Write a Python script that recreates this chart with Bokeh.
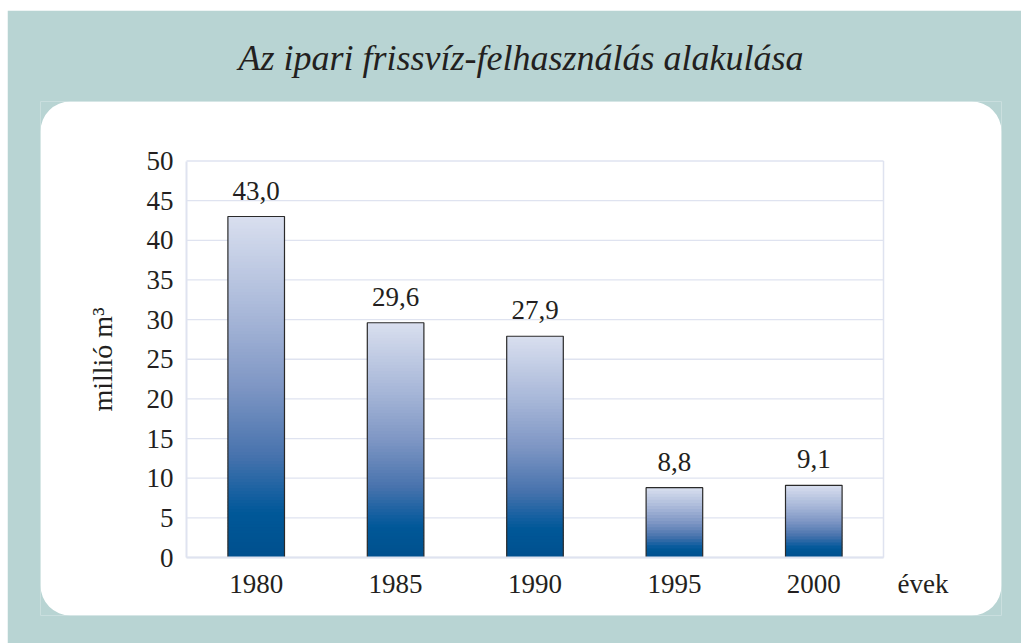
from bokeh.plotting import figure
from bokeh.models import Range1d, FixedTicker, ColumnDataSource, BoxAnnotation, Label
from bokeh.core.properties import value
from bokeh.embed import file_html
from bokeh.resources import INLINE

# ---- data ----
years = [1980, 1985, 1990, 1995, 2000]
values = [43.0, 29.6, 27.9, 8.8, 9.1]
value_labels = ["43,0", "29,6", "27,9", "8,8", "9,1"]
year_labels = ["1980", "1985", "1990", "1995", "2000"]
y_ticks = [0, 5, 10, 15, 20, 25, 30, 35, 40, 45, 50]

TITLE = "Az ipari frissvíz-felhasználás alakulása"
Y_LABEL = "millió m³"
X_UNIT = "évek"

# ---- style ----
TEAL = "#b8d4d3"
GRID = "#dfe3f0"
TEXT = "#231f20"
FONT = "Liberation Serif"
BAR_W = 2.03
STOPS = [
    (0.00, (217, 223, 239)),
    (0.30, (165, 181, 215)),
    (0.50, (126, 150, 196)),
    (0.70, (72, 115, 173)),
    (0.82, (20, 95, 160)),
    (0.87, (0, 88, 152)),
    (1.00, (0, 80, 142)),
]

# plot-area extent in data units, and the white panel's extent around it
X_LO, X_HI = 1977.5, 2002.5
Y_LO, Y_HI = 0, 50
PX_X = 697 / 25.0      # pixels per year
PX_Y = 396.5 / 50.0    # pixels per unit
x_range = Range1d(X_LO - 146 / PX_X, X_HI + 118 / PX_X)
y_range = Range1d(Y_LO - 58 / PX_Y, Y_HI + 59.5 / PX_Y)
LABEL_PAD = 26 / PX_Y  # anchor distance between bar top and its value label
SLICE_PX = 3           # gradient band height in pixels


def grad(t):
    for (t0, c0), (t1, c1) in zip(STOPS[:-1], STOPS[1:]):
        if t <= t1:
            f = (t - t0) / (t1 - t0) if t1 > t0 else 0
            return "#%02x%02x%02x" % tuple(int(round(a + (b - a) * f)) for a, b in zip(c0, c1))
    return "#%02x%02x%02x" % STOPS[-1][1]


# gradient slices built from the data values
sl = dict(left=[], right=[], bottom=[], top=[], color=[])
for yr, v in zip(years, values):
    n = max(8, int(v * PX_Y / SLICE_PX))
    for k in range(n):
        b = v * k / n
        t = min(v, v * (k + 1.6) / n)
        sl["left"].append(yr - BAR_W / 2)
        sl["right"].append(yr + BAR_W / 2)
        sl["bottom"].append(b)
        sl["top"].append(t)
        sl["color"].append(grad(1 - (k + 0.5) / n))

p = figure(width=1014, height=633, x_range=x_range, y_range=y_range,
           output_backend="svg", toolbar_location=None,
           min_border_left=33, min_border_right=20,
           min_border_top=91, min_border_bottom=28,
           background_fill_color=TEAL, border_fill_color=TEAL,
           outline_line_color=None,
           styles={"margin-left": "7px", "margin-top": "10px"})

# title
p.title.text = TITLE
p.title.align = "center"
p.title.text_font = FONT
p.title.text_font_style = "italic"
p.title.text_font_size = "36px"
p.title.text_color = TEXT
p.title.standoff = 47

# white rounded panel = the whole frame
panel = BoxAnnotation(fill_color="white", fill_alpha=1.0, line_color=None,
                      border_radius=30, level="underlay")
p.add_layout(panel)

p.xgrid.grid_line_color = None
p.ygrid.grid_line_color = None

# grid lines + right edge of the plot box
p.segment(x0=[X_LO] * len(y_ticks), x1=[X_HI] * len(y_ticks), y0=y_ticks, y1=y_ticks,
          line_color=GRID, line_width=1.3)
p.segment(x0=[X_HI], x1=[X_HI], y0=[Y_LO], y1=[Y_HI], line_color=GRID, line_width=1.5)

# bars
p.quad(left="left", right="right", bottom="bottom", top="top", color="color",
       line_color=None, source=ColumnDataSource(sl))
p.vbar(x=years, top=values, width=BAR_W, bottom=0, fill_color=None,
       line_color="#2a2a2a", line_width=1.2)

p.text(x=years, y=[v + LABEL_PAD for v in values], text=value_labels,
       text_align="center", text_baseline="alphabetic",
       text_font=value(FONT), text_font_size="27px", text_color=TEXT)

# axes fixed at the plot-area edges
for ax in (p.xaxis[0], p.yaxis[0]):
    ax.axis_line_color = GRID
    ax.axis_line_width = 2
    ax.major_tick_line_color = None
    ax.minor_tick_line_color = None
    ax.major_tick_out = 0
    ax.major_tick_in = 0
    ax.major_label_text_font = FONT
    ax.major_label_text_font_size = "27px"
    ax.major_label_text_color = TEXT

p.xaxis.fixed_location = Y_LO
p.xaxis.bounds = (X_LO, X_HI)
p.xaxis.ticker = FixedTicker(ticks=years)
p.xaxis.major_label_overrides = {yr: lab for yr, lab in zip(years, year_labels)}
p.xaxis.major_label_standoff = 17

p.yaxis.fixed_location = X_LO
p.yaxis.bounds = (Y_LO, Y_HI)
p.yaxis.ticker = FixedTicker(ticks=y_ticks)
p.yaxis.major_label_standoff = 13
p.yaxis.axis_label = Y_LABEL
p.yaxis.axis_label_text_font = FONT
p.yaxis.axis_label_text_font_size = "28px"
p.yaxis.axis_label_text_font_style = "normal"
p.yaxis.axis_label_text_color = TEXT
p.yaxis.axis_label_standoff = 26

p.add_layout(Label(x=857, y=32, x_units="screen", y_units="screen", text=X_UNIT,
                   text_align="left", text_baseline="alphabetic",
                   text_font=FONT, text_font_size="27px", text_color=TEXT))

open("out.html", "w").write(file_html(p, INLINE))
